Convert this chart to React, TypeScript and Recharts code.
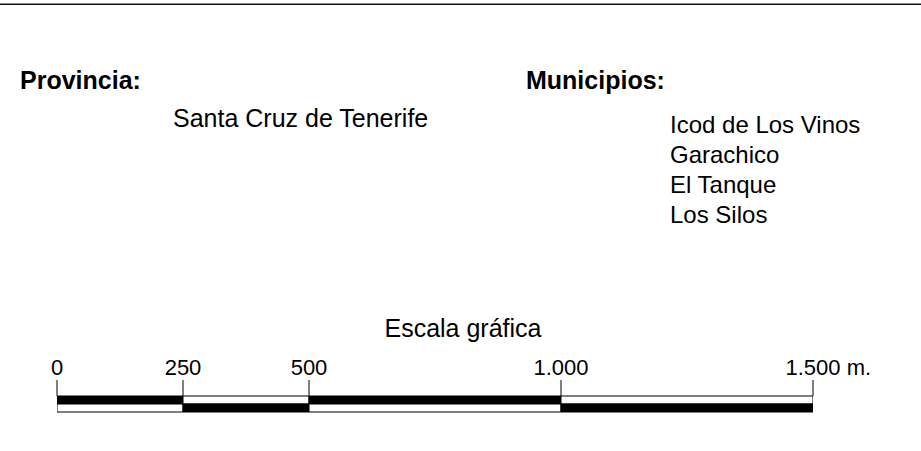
import React from "react"
import { Bar, BarChart, Cell, XAxis, YAxis } from "recharts"

// scale breaks in metres
const scaleTicks = [0, 250, 500, 1000, 1500]
const tickLabels = ["0", "250", "500", "1.000", "1.500"]
const rows = ["top", "bottom"]
const topColors = ["#000", "#fff", "#000", "#fff"]
const bottomColors = ["#fff", "#000", "#fff", "#000"]

const provincia = "Santa Cruz de Tenerife"
const municipios = ["Icod de Los Vinos", "Garachico", "El Tanque", "Los Silos"]

const segKeys = ["s1", "s2", "s3", "s4"]
const data = rows.map((row) => {
  const d: Record<string, string | number> = { row }
  segKeys.forEach((k, i) => {
    d[k] = scaleTicks[i + 1] - scaleTicks[i]
  })
  return d
})

const FONT = '"Liberation Sans", Arial, sans-serif'

function ScaleTick(props: any) {
  const { x, payload } = props
  const idx = scaleTicks.indexOf(payload.value)
  const label = tickLabels[idx]
  const last = idx === scaleTicks.length - 1
  return (
    <text
      x={x}
      y={375}
      textAnchor={last ? "start" : "middle"}
      dx={last ? -27.5 : 0}
      fontSize={22}
      fontFamily={FONT}
      fill="#000"
    >
      {last ? `${label} m.` : label}
    </text>
  )
}

export default function App() {
  return (
    <div style={{ position: "absolute", left: 0, top: 0, width: 921, height: 451, background: "#fff" }}>
      <div style={{ position: "absolute", left: 0, top: 3, width: 921, height: 1, background: "#888" }} />
      <div style={{ position: "absolute", left: 0, top: 4, width: 921, height: 1, background: "#111" }} />

      <div style={{ position: "absolute", left: 0, top: 0 }}>
        <BarChart
          width={921}
          height={451}
          data={data}
          layout="vertical"
          barCategoryGap={0}
          margin={{ top: 356, right: 108, bottom: 39, left: 57 }}
        >
          <XAxis
            type="number"
            orientation="top"
            domain={[0, 1500]}
            ticks={scaleTicks}
            height={40}
            tickSize={16}
            axisLine={false}
            tickLine={{ stroke: "#000", strokeWidth: 1 }}
            tick={<ScaleTick />}
            interval={0}
            allowDataOverflow
          />
          <YAxis type="category" dataKey="row" hide />
          {segKeys.map((k, i) => (
            <Bar key={k} dataKey={k} stackId="scale" stroke="#000" strokeWidth={1} isAnimationActive={false}>
              {data.map((_, r) => (
                <Cell key={r} fill={r === 0 ? topColors[i] : bottomColors[i]} />
              ))}
            </Bar>
          ))}
        </BarChart>
      </div>

      <svg width={921} height={451} style={{ position: "absolute", left: 0, top: 0, pointerEvents: "none" }} fontFamily={FONT}>
        <text x={20} y={89} fontSize={25} fontWeight="bold">Provincia:</text>
        <text x={173} y={127} fontSize={25}>{provincia}</text>
        <text x={526} y={89} fontSize={25} fontWeight="bold">Municipios:</text>
        {municipios.map((m, i) => (
          <text key={m} x={670} y={133 + i * 30} fontSize={24}>{m}</text>
        ))}
        <text x={463} y={337} fontSize={25} textAnchor="middle">Escala gráfica</text>
      </svg>
    </div>
  )
}
